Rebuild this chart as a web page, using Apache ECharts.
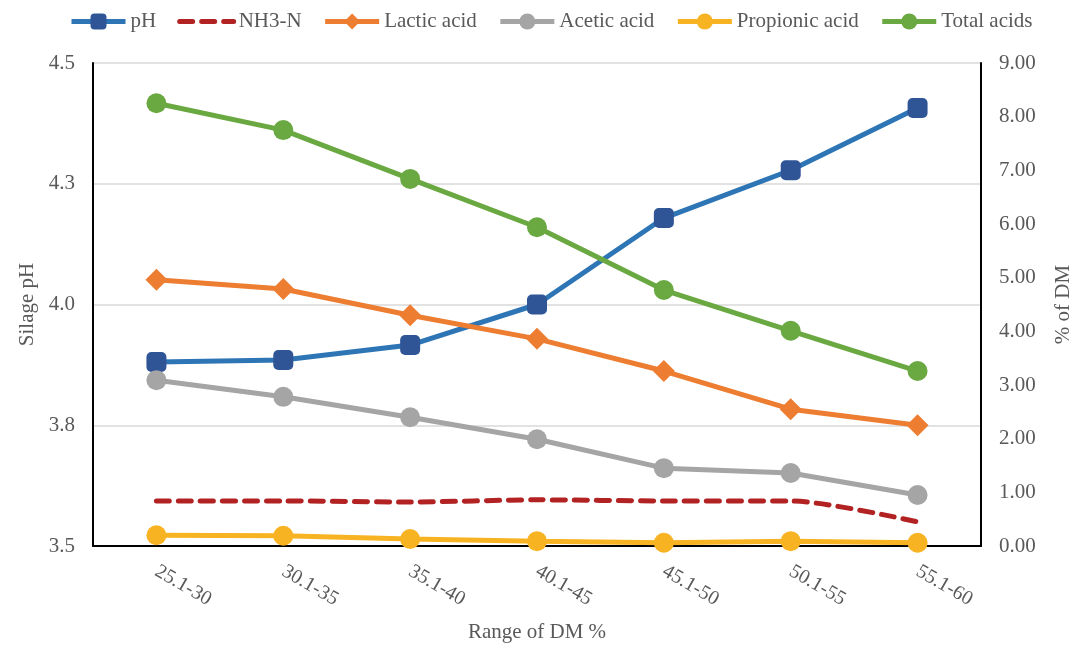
<!DOCTYPE html>
<html>
<head>
<meta charset="utf-8">
<script src="https://cdn.jsdelivr.net/npm/echarts@6/dist/echarts.min.js"></script>
<style>
  html, body { margin: 0; padding: 0; background: #fff; overflow: hidden; }
  #chart { width: 1073px; height: 645px; }
</style>
</head>
<body>
<div id="chart"></div>
<script>
// DM ranges on the x axis
const categories = ['25.1-30', '30.1-35', '35.1-40', '40.1-45', '45.1-50', '50.1-55', '55.1-60'];

// Silage pH (left axis)
const phValues = [3.881, 3.885, 3.916, 4.0, 4.179, 4.278, 4.407];

// Fermentation products, % of DM (right axis)
const nh3nValues = [0.84, 0.84, 0.82, 0.86, 0.84, 0.84, 0.45];
const lacticValues = [4.96, 4.79, 4.30, 3.86, 3.26, 2.55, 2.25];
const aceticValues = [3.09, 2.78, 2.40, 1.99, 1.45, 1.36, 0.95];
const propionicValues = [0.20, 0.19, 0.13, 0.09, 0.06, 0.09, 0.06];
const totalAcidValues = [8.25, 7.75, 6.84, 5.94, 4.77, 4.01, 3.26];

// Axis ranges: [min, max, interval]
const phAxisRange = [3.5, 4.5, 0.25];
const dmAxisRange = [0, 9, 1];

const textColor = '#595959';
const font = 'Liberation Serif, Times New Roman, serif';
const fontSize = 21;
const nh3Dash = [13, 9];

const chart = echarts.init(document.getElementById('chart'));

function lineSeries(name, data, yAxisIndex, color, symbol, markerColor) {
  return {
    name, type: 'line', data, yAxisIndex,
    symbol, symbolSize: symbol === 'diamond' ? 22 : 20,
    lineStyle: { color, width: 5 },
    itemStyle: { color: markerColor || color },
    emphasis: { disabled: true }
  };
}

const legendNames = ['pH', 'NH3-N', 'Lactic acid', 'Acetic acid', 'Propionic acid', 'Total acids'];

chart.setOption({
  animation: false,
  textStyle: { fontFamily: font },
  legend: {
    top: 6, left: 64,
    itemWidth: 54, itemHeight: 20, itemGap: 21,
    textStyle: { color: textColor, fontSize, fontFamily: font },
    data: legendNames.map(name => name === 'NH3-N'
      ? { name, itemStyle: { opacity: 0 }, lineStyle: { width: 5, type: nh3Dash } }
      : { name, lineStyle: { width: 5 } })
  },
  grid: { left: 93, right: 92, top: 63, bottom: 99, containLabel: false, outerBoundsMode: 'none' },
  xAxis: {
    type: 'category', data: categories, boundaryGap: true,
    name: 'Range of DM %', nameLocation: 'middle', nameGap: 76,
    nameTextStyle: { color: textColor, fontSize, fontFamily: font },
    axisLine: { lineStyle: { color: '#000', width: 2 } },
    axisTick: { show: false },
    axisLabel: { color: textColor, fontSize: 20, rotate: -30, margin: 24, fontFamily: font }
  },
  yAxis: [
    {
      type: 'value', min: phAxisRange[0], max: phAxisRange[1], interval: phAxisRange[2],
      name: 'Silage pH', nameLocation: 'middle', nameGap: 55,
      nameTextStyle: { color: textColor, fontSize, fontFamily: font },
      axisLine: { show: true, lineStyle: { color: '#000', width: 2 } },
      axisTick: { show: false },
      splitLine: { lineStyle: { color: '#d9d9d9', width: 1.5 } },
      axisLabel: { color: textColor, fontSize, margin: 18, fontFamily: font,
                   formatter: v => v.toFixed(1) }
    },
    {
      type: 'value', min: dmAxisRange[0], max: dmAxisRange[1], interval: dmAxisRange[2],
      name: '% of DM', nameLocation: 'middle', nameGap: 72, nameRotate: 90,
      nameTextStyle: { color: textColor, fontSize, fontFamily: font },
      axisLine: { show: true, lineStyle: { color: '#000', width: 2 } },
      axisTick: { show: false },
      splitLine: { show: false },
      axisLabel: { color: textColor, fontSize, margin: 18, fontFamily: font,
                   formatter: v => v.toFixed(2) }
    }
  ],
  series: [
    lineSeries('pH', phValues, 0, '#2E75B6', 'roundRect', '#2F5597'),
    {
      name: 'NH3-N', type: 'line', data: nh3nValues, yAxisIndex: 1,
      symbol: 'none', smooth: 0.25,
      lineStyle: { color: '#B22222', width: 5, type: nh3Dash, cap: 'round' },
      itemStyle: { color: '#B22222' },
      emphasis: { disabled: true }
    },
    lineSeries('Lactic acid', lacticValues, 1, '#ED7D31', 'diamond'),
    lineSeries('Acetic acid', aceticValues, 1, '#A5A5A5', 'circle'),
    lineSeries('Propionic acid', propionicValues, 1, '#F8B323', 'circle'),
    lineSeries('Total acids', totalAcidValues, 1, '#6AA842', 'circle')
  ]
});
</script>
</body>
</html>
